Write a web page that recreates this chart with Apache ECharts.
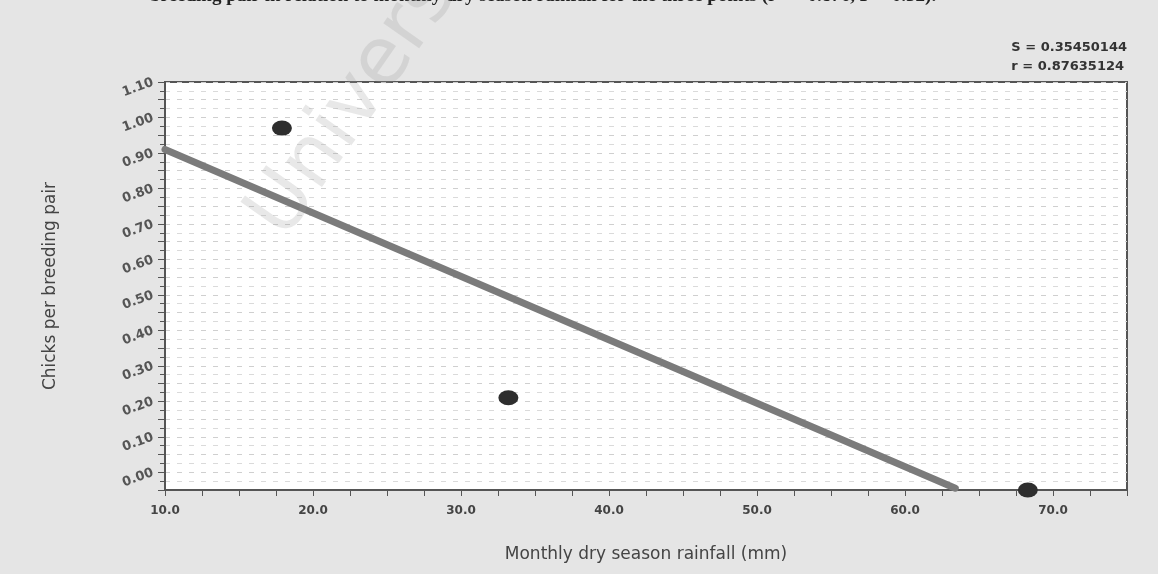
<!DOCTYPE html>
<html>
<head>
<meta charset="utf-8">
<title>Chicks per breeding pair</title>
<script src="https://cdn.jsdelivr.net/npm/echarts@6/dist/echarts.min.js"></script>
<style>
  html, body { margin: 0; padding: 0; background: #e5e5e5; }
</style>
</head>
<body>
<div id="myChart" style="width:1158px;height:574px;"></div>
<script>
// observed points (rainfall mm, chicks per pair)
var rainfall = [17.9, 33.2, 68.3];
var chicks = [0.97, 0.21, -0.05];
// fitted line, end points
var fitX = [10.0, 63.4];
var fitY = [0.91, -0.045];
var statText = ['S = 0.35450144', 'r = 0.87635124'];

var myChart = echarts.init(document.getElementById('myChart'));

var pts = rainfall.map(function (x, i) { return [x, chicks[i]]; });
var fit = fitX.map(function (x, i) { return [x, fitY[i]]; });

myChart.setOption({
  backgroundColor: '#e5e5e5',
  animation: false,
  textStyle: { fontFamily: 'DejaVu Sans' },
  grid: {
    left: 165,
    right: 31,
    top: 82,
    bottom: 84,
    show: true,
    backgroundColor: '#ffffff',
    borderColor: '#555',
    borderWidth: 2
  },
  xAxis: {
    type: 'value',
    min: 10,
    max: 75,
    interval: 10,
    name: 'Monthly dry season rainfall (mm)',
    nameLocation: 'middle',
    nameGap: 56,
    nameTextStyle: { color: '#444', fontSize: 17 },
    axisLine: { onZero: false, lineStyle: { color: '#555', width: 2 } },
    axisTick: { length: 6, lineStyle: { color: '#555' } },
    minorTick: { show: true, splitNumber: 4, length: 6, lineStyle: { color: '#555' } },
    splitLine: { show: false },
    axisLabel: {
      color: '#444',
      fontSize: 12,
      fontWeight: 'bold',
      margin: 15,
      showMaxLabel: false,
      formatter: function (v) { return v.toFixed(1); }
    }
  },
  yAxis: {
    type: 'value',
    min: -0.05,
    max: 1.1,
    interval: 0.05,
    name: 'Chicks per breeding pair',
    nameLocation: 'middle',
    nameGap: 106,
    nameTextStyle: { color: '#444', fontSize: 17 },
    axisLine: { show: true, lineStyle: { color: '#555', width: 2 } },
    axisTick: { show: true, length: 7, lineStyle: { color: '#555' } },
    minorTick: { show: true, splitNumber: 2, length: 5, lineStyle: { color: '#555' } },
    splitLine: { show: true, lineStyle: { color: '#cfcfcf', type: [5, 7] } },
    minorSplitLine: { show: true, lineStyle: { color: '#dadada', type: [5, 7] } },
    axisLabel: {
      color: '#555',
      fontSize: 13,
      fontWeight: 'bold',
      rotate: 20,
      margin: 12,
      formatter: function (v) {
        // only label 0.00, 0.10 ... 1.10
        var k = Math.round(v * 100);
        if (k < 0 || k % 10 !== 0) return '';
        return (k / 100).toFixed(2);
      }
    }
  },
  graphic: [
    {
      // scanned page title, cut at the top edge
      type: 'text',
      left: 150,
      top: -13,
      style: {
        text: 'breeding pair in relation to monthly dry season rainfall for the three points (r = \u22120.876, P = 0.32).',
        font: 'bold 19px "Liberation Serif"',
        fill: '#222'
      }
    },
    {
      type: 'text',
      right: 31,
      top: 38,
      style: {
        text: statText.join('\n'),
        font: 'bold 13px "DejaVu Sans"',
        fill: '#333',
        align: 'right',
        lineHeight: 19
      }
    },
    {
      // watermark
      type: 'text',
      x: 300,
      y: 252,
      rotation: 55 * Math.PI / 180,
      z: 100,
      style: {
        text: 'University',
        font: '80px "DejaVu Sans"',
        fill: 'rgba(150,150,150,0.22)',
        textVerticalAlign: 'bottom'
      }
    }
  ],
  series: [
    {
      name: 'fit',
      type: 'line',
      data: fit,
      showSymbol: false,
      lineStyle: { color: '#7b7b7b', width: 7, cap: 'round' },
      z: 2
    },
    {
      name: 'points',
      type: 'scatter',
      data: pts,
      symbol: 'circle',
      symbolSize: [20, 15],
      itemStyle: { color: '#2e2e2e', opacity: 1 },
      z: 3
    }
  ]
});
</script>
</body>
</html>
